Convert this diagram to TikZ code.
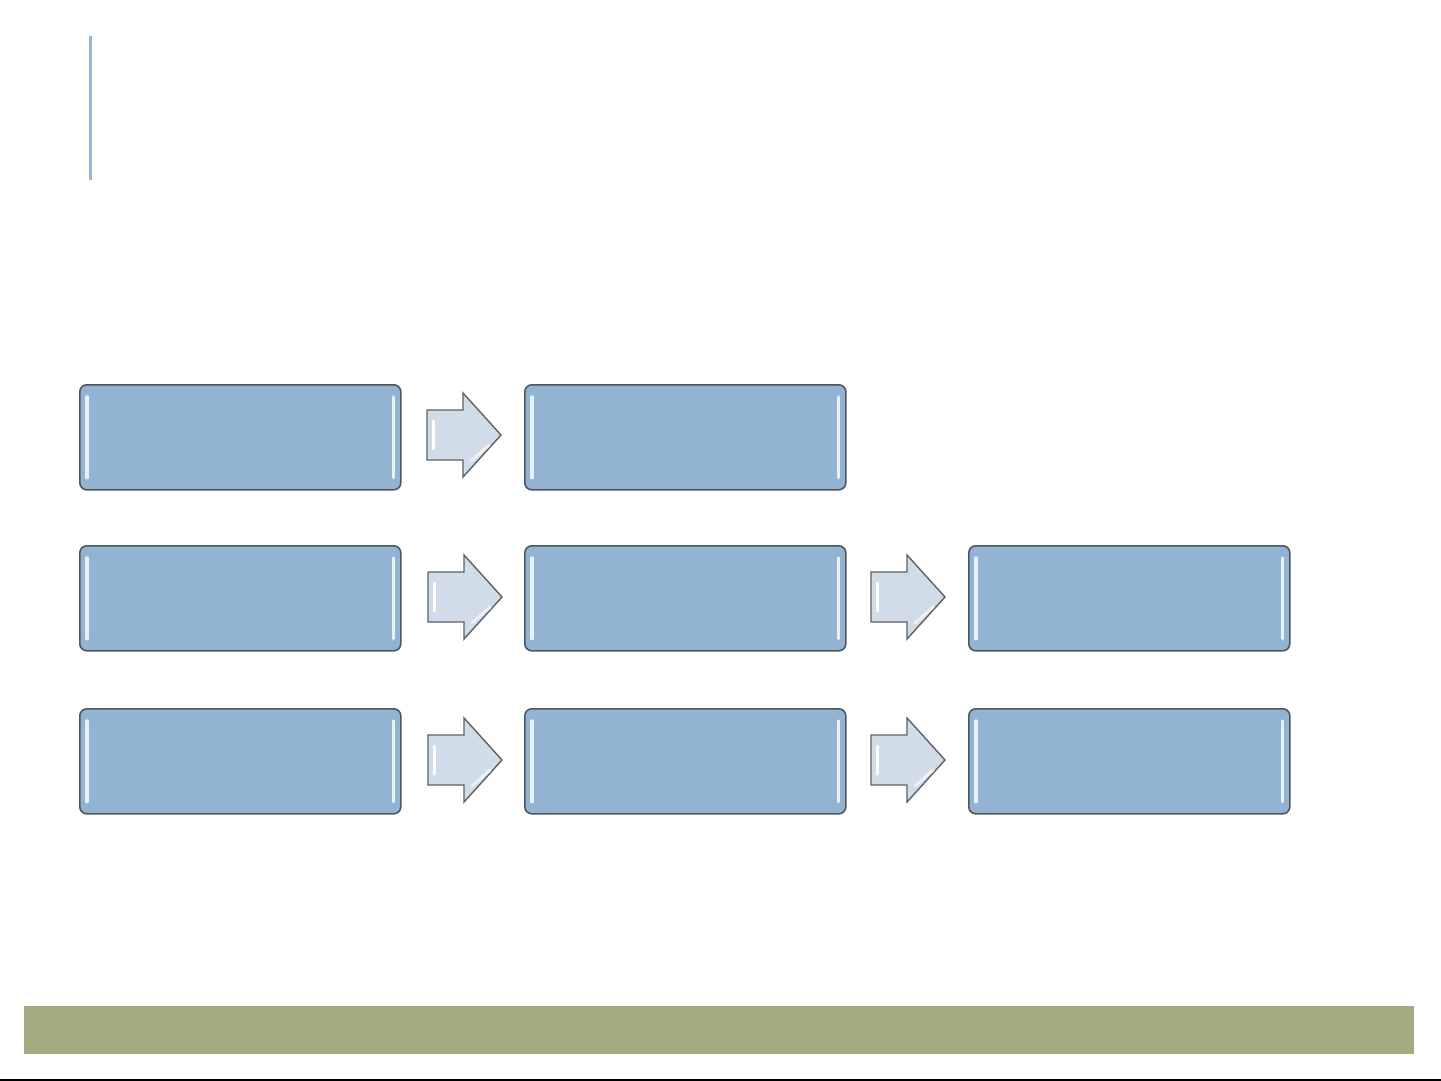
\documentclass[tikz,border=0pt]{standalone}
\usetikzlibrary{calc}
\definecolor{boxblue}{HTML}{93B3D2}
\definecolor{boxedge}{HTML}{50565E}
\definecolor{arrowfill}{HTML}{D0DCE8}
\definecolor{barGreen}{HTML}{A4AB80}
\definecolor{lineblue}{HTML}{98B8D4}
\definecolor{shine}{HTML}{E6F4FA}
\tikzset{
  stepbox/.style={draw=boxedge, line width=1.6pt, rounded corners=7pt, fill=boxblue,
    minimum width=321pt, minimum height=105pt, inner sep=0pt},
  flowarrow/.style={draw=gray!75!black, line width=1.4pt, fill=arrowfill, line join=miter}
}
\newcommand{\shinebox}[3]{% name, x-left, y-top (pixel units)
  \node[stepbox, anchor=north west] (#1) at (#2,#3) {};
  \draw[shine, line width=3.5pt, line cap=round]
    ([xshift=8pt,yshift=-13pt]#1.north west) -- ([xshift=8pt,yshift=13pt]#1.south west);
  \draw[shine, line width=3.5pt, line cap=round]
    ([xshift=-8pt,yshift=-13pt]#1.north east) -- ([xshift=-8pt,yshift=13pt]#1.south east);
}
\newcommand{\flowarrow}[3]{% name, x-left, y-center
  \coordinate (#1) at (#2+37,#3);
  \draw[flowarrow] (#2,#3-25) -- (#2+36,#3-25) -- (#2+36,#3-42) -- (#2+74,#3) -- (#2+36,#3+42)
     -- (#2+36,#3+25) -- (#2,#3+25) -- cycle;
  \draw[white, line width=3pt, line cap=round] (#2+6,#3-14) -- (#2+6,#3+14);
  \draw[white!60!arrowfill, line width=3pt, line cap=round] (#2+44,#3+26) -- (#2+62,#3+10);
}
\begin{document}
\begin{tikzpicture}[x=1pt,y=-1pt]
\useasboundingbox (0,0) rectangle (1441,1081);
\fill[white] (0,0) rectangle (1441,1081);
% title accent line
\fill[lineblue] (88.5,36) rectangle (91.5,180);
% boxes
\shinebox{b11}{79}{384}
\shinebox{b12}{524}{384}
\shinebox{b21}{79}{545}
\shinebox{b22}{524}{545}
\shinebox{b23}{968}{545}
\shinebox{b31}{79}{708}
\shinebox{b32}{524}{708}
\shinebox{b33}{968}{708}
% arrows
\flowarrow{a11}{427}{435}
\flowarrow{a21}{428}{597}
\flowarrow{a22}{871}{597}
\flowarrow{a31}{428}{760}
\flowarrow{a32}{871}{760}
% footer bar
\fill[barGreen] (24,1006) rectangle (1414,1054);
\draw[black, line width=2pt] (0,1079.5) -- (1441,1079.5);
\end{tikzpicture}
\end{document}
